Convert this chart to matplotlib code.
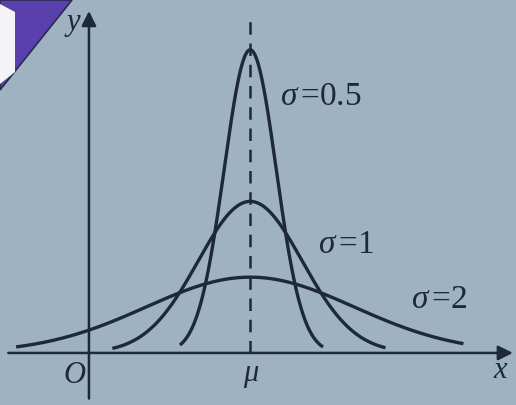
import numpy as np
import matplotlib
matplotlib.use("Agg")
import matplotlib.pyplot as plt
from matplotlib.patches import Polygon

plt.rcParams["mathtext.fontset"] = "custom"
plt.rcParams["mathtext.rm"] = "Liberation Serif"
plt.rcParams["mathtext.it"] = "Liberation Serif:italic"

# Normal curves: mean and standard deviations
mu = 3.1
sigmas = [0.5, 1, 2]
labels = [r"$\mathit{σ}\,$=0.5", r"$\mathit{σ}\,$=1", r"$\mathit{σ}\,$=2"]
x_starts = [1.75, 0.45, -1.4]
x_ends = [4.5, 5.7, 7.2]
label_pos = [(3.68, 0.674), (4.4, 0.284), (6.2, 0.139)]

W, H = 516, 405
bg = "#9eb2c1"
ink = "#1d2838"

fig = plt.figure(figsize=(W / 100, H / 100), dpi=100)
fig.patch.set_facecolor(bg)
ax = fig.add_axes([0, 0, 1, 1])
ax.set_facecolor(bg)
ax.set_xlim(-1.71, 8.21)
ax.set_ylim(-0.137, 0.929)
ax.axis("off")

def px(x, y):
    return (x / W, 1 - y / H)

# corner decoration
ax.add_patch(Polygon([px(0, 0), px(72, 0), px(0, 90)], closed=True,
                     transform=ax.transAxes, facecolor="#5a40ad",
                     edgecolor="#2a2a50", lw=1.2, zorder=1))
ax.add_patch(Polygon([px(0, 4), px(15, 12), px(15, 72), px(0, 84)], closed=True,
                     transform=ax.transAxes, facecolor="#f4f4f6",
                     edgecolor="none", zorder=2))

# axes with arrows
ax.annotate("", xy=(8.15, 0), xytext=(-1.55, 0),
            arrowprops=dict(arrowstyle="-|>", color=ink, lw=1.8,
                            mutation_scale=22, shrinkA=0, shrinkB=0))
ax.annotate("", xy=(0, 0.9), xytext=(0, -0.12),
            arrowprops=dict(arrowstyle="-|>", color=ink, lw=1.8,
                            mutation_scale=22, shrinkA=0, shrinkB=0))

# dashed line at the mean
ax.plot([mu, mu], [0, 0.895], color=ink, lw=1.8, ls=(0, (5, 3.5)))

for s, x0, x1, lab, (lx, ly) in zip(sigmas, x_starts, x_ends, labels, label_pos):
    xs = np.linspace(x0, x1, 400)
    ys = np.exp(-(xs - mu) ** 2 / (2 * s ** 2)) / (s * np.sqrt(2 * np.pi))
    ax.plot(xs, ys, color=ink, lw=2.4, solid_capstyle="butt")
    ax.text(lx, ly, lab, fontsize=24, family="Liberation Serif",
            color=ink, va="center", ha="left")

serif_it = dict(family="Liberation Serif", style="italic", color=ink)
ax.text(-0.3, 0.87, "y", fontsize=22, ha="center", va="center", **serif_it)
ax.text(7.9, -0.045, "x", fontsize=22, ha="center", va="center", **serif_it)
ax.text(-0.28, -0.06, "O", fontsize=22, ha="center", va="center", **serif_it)
ax.text(mu, -0.055, "μ", fontsize=22, ha="center", va="center", **serif_it)

fig.savefig("out.png", dpi=100, facecolor=bg)
